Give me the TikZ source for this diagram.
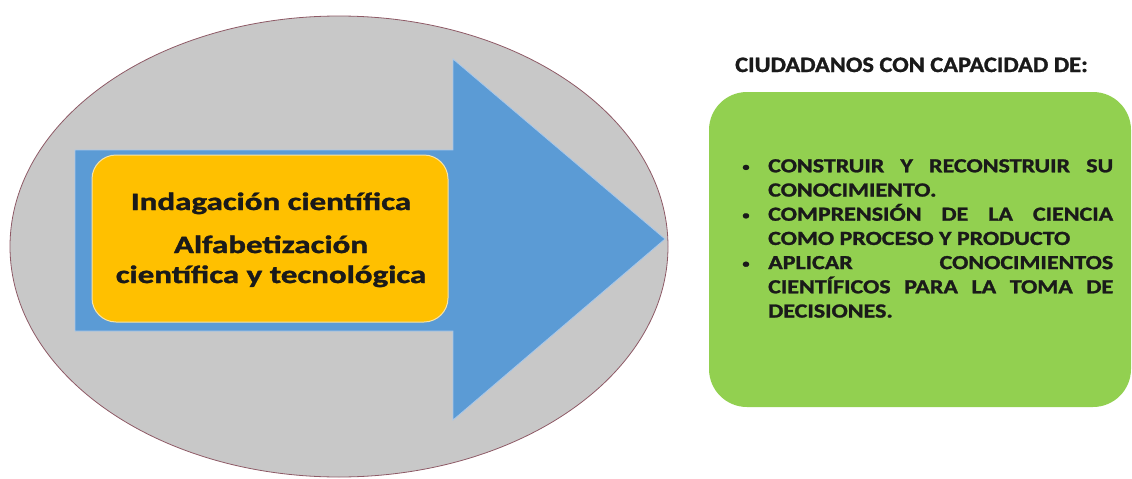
\documentclass[tikz,border=0pt]{standalone}
\usepackage{fontspec}
\setmainfont{Carlito}[BoldFeatures={FakeBold=1.2}]
\usetikzlibrary{shapes.geometric}
\definecolor{ellgray}{HTML}{C8C8C8}
\definecolor{ellline}{HTML}{8E5A66}
\definecolor{arrblue}{HTML}{5B9BD5}
\definecolor{arredge}{HTML}{A9C8EA}
\definecolor{boxorange}{HTML}{FFC000}
\definecolor{boxedge}{HTML}{F6E3A8}
\definecolor{boxgreen}{HTML}{92D050}
\definecolor{txt}{HTML}{1A1A1A}
\newcommand{\mainstretch}[1]{\scalebox{1.32}[1]{#1}}
\newcommand{\itembul}{\makebox[25pt][l]{\hspace{3.5pt}\raisebox{1.5pt}{\fontsize{12}{12}\selectfont\textbullet}}}
\tikzset{
  mainlabel/.style={font=\fontsize{25}{30}\selectfont\bfseries, text=txt, inner sep=0pt, anchor=base},
  titlelabel/.style={font=\fontsize{22}{26}\selectfont\bfseries, text=txt, inner sep=0pt, anchor=base west},
  listtext/.style={font=\fontsize{20}{24.2}\selectfont\bfseries, text=txt, inner sep=0pt, anchor=north west}
}
\begin{document}
\begin{tikzpicture}[x=1pt,y=-1pt]
\useasboundingbox (0,0) rectangle (1132,479);
% big ellipse
\node[ellipse, draw=ellline, line width=0.8pt, fill=ellgray, minimum width=658pt, minimum height=461pt, inner sep=0pt] (ell) at (339,246.5) {};
% block arrow
\draw[fill=arrblue, draw=arredge, line width=0.8pt, line join=miter]
  (75,150) -- (453,150) -- (453,59) -- (665,239) -- (453,420) -- (453,331) -- (75,331) -- cycle;
\coordinate (tip) at (665,239);
% orange rounded box
\draw[fill=boxorange, draw=boxedge, line width=1pt, rounded corners=24pt] (92,155) rectangle (448,322);
\node[mainlabel] (t1) at (271,210) {\mainstretch{Indagación científica}};
\node[mainlabel] (t2) at (271,253) {\mainstretch{Alfabetización}};
\node[mainlabel] (t3) at (271,283) {\mainstretch{científica y tecnológica}};
% title
\node[titlelabel] (title) at (735,72) {\scalebox{1.11}[1]{CIUDADANOS CON CAPACIDAD DE:}};
% green rounded box
\draw[fill=boxgreen, draw=none, rounded corners=38pt] (709,92) rectangle (1131,407);
\node[listtext] (list) at (738,159) {\scalebox{1.2}[1]{\parbox[t]{312.5pt}{%
\hyphenpenalty=10000\exhyphenpenalty=10000
\hangindent=25pt\hangafter=1\noindent\itembul CONSTRUIR Y RECONSTRUIR SU\linebreak CONOCIMIENTO.\par
\hangindent=25pt\hangafter=1\noindent\itembul COMPRENSIÓN DE LA CIENCIA\linebreak COMO PROCESO Y PRODUCTO\par
\hangindent=25pt\hangafter=1\noindent\itembul APLICAR CONOCIMIENTOS\linebreak CIENTÍFICOS PARA LA TOMA DE\linebreak DECISIONES.\par}}};
\end{tikzpicture}
\end{document}
